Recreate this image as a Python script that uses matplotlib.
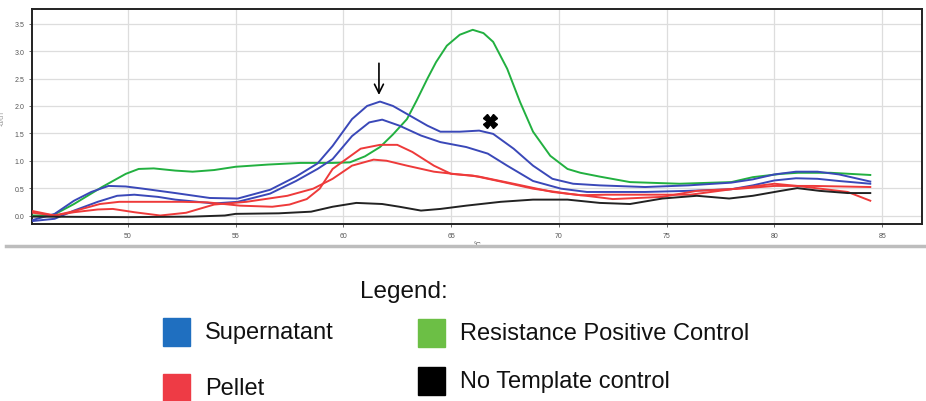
import matplotlib
matplotlib.use("Agg")
import matplotlib.pyplot as plt
from matplotlib.patches import Rectangle
from matplotlib.lines import Line2D

# ---- data ----
green_t = [45.6, 46.5, 47.5, 48.8, 49.9, 50.5, 51.2, 52.2, 53.0, 54.0, 55.0, 56.5, 58.0, 59.5, 60.3,
           61.0, 61.7, 62.3, 62.95, 63.4, 63.9, 64.3, 64.8, 65.4, 66.0, 66.5, 66.95, 67.6, 68.2,
           68.8, 69.6, 70.4, 71.0, 71.9, 73.3, 75.6, 78.0, 79.0, 80.3, 81.1, 82.6, 84.45]
green_v = [0.0, 0.0, 0.21, 0.52, 0.76, 0.85, 0.86, 0.82, 0.80, 0.83, 0.89, 0.93, 0.96, 0.96, 0.97,
           1.08, 1.25, 1.48, 1.76, 2.1, 2.5, 2.8, 3.1, 3.3, 3.39, 3.33, 3.17, 2.68, 2.07,
           1.53, 1.09, 0.85, 0.78, 0.71, 0.61, 0.58, 0.61, 0.70, 0.76, 0.78, 0.78, 0.74]

blue_a_t = [45.6, 46.6, 47.5, 48.3, 49.1, 49.9, 50.7, 52.2, 53.8, 55.1, 56.6, 57.8, 58.8, 59.5,
            60.4, 61.1, 61.7, 62.3, 63.1, 63.9, 64.5, 65.4, 66.3, 66.95, 67.9, 68.8, 69.7, 70.66,
            71.9, 74.0, 76.0, 78.0, 79.0, 80.0, 81.0, 82.0, 83.0, 84.45]
blue_a_v = [-0.08, 0.03, 0.27, 0.43, 0.54, 0.53, 0.49, 0.41, 0.32, 0.31, 0.47, 0.71, 0.95, 1.27,
            1.76, 2.0, 2.08, 2.0, 1.82, 1.64, 1.53, 1.53, 1.55, 1.49, 1.22, 0.91, 0.67, 0.58,
            0.55, 0.52, 0.55, 0.60, 0.66, 0.75, 0.80, 0.80, 0.75, 0.62]

blue_b_t = [45.6, 46.6, 47.5, 48.6, 49.5, 50.3, 51.4, 52.2, 54.0, 55.1, 56.6, 57.8, 58.8, 59.5,
            60.4, 61.2, 61.8, 62.6, 63.6, 64.5, 65.7, 66.7, 67.6, 68.8, 70.1, 71.3, 72.0, 74.0,
            76.0, 78.0, 79.0, 80.0, 81.0, 82.0, 83.0, 84.45]
blue_b_v = [-0.1, -0.06, 0.09, 0.25, 0.36, 0.38, 0.34, 0.29, 0.22, 0.25, 0.40, 0.63, 0.85, 1.03,
            1.45, 1.70, 1.75, 1.64, 1.46, 1.34, 1.25, 1.13, 0.91, 0.63, 0.49, 0.43, 0.43, 0.43,
            0.45, 0.48, 0.55, 0.64, 0.68, 0.67, 0.63, 0.58]

red_a_t = [45.6, 46.6, 47.5, 48.7, 49.6, 51.0, 52.5, 53.7, 55.2, 56.7, 57.5, 58.3, 58.9, 59.5,
           60.8, 61.7, 62.5, 63.2, 64.2, 65.0, 66.0, 67.3, 68.8, 70.4, 71.9, 72.5, 74.8, 76.4,
           78.4, 80.0, 81.8, 84.45]
red_a_v = [0.08, 0.0, 0.08, 0.21, 0.25, 0.25, 0.25, 0.24, 0.18, 0.16, 0.20, 0.30, 0.49, 0.85,
           1.22, 1.29, 1.29, 1.16, 0.91, 0.76, 0.73, 0.62, 0.49, 0.40, 0.33, 0.30, 0.34, 0.45,
           0.49, 0.54, 0.54, 0.52]

red_b_t = [45.6, 46.6, 47.5, 48.6, 49.3, 50.3, 51.5, 52.7, 54.0, 55.5, 57.4, 58.6, 59.5, 60.4,
           61.4, 62.0, 62.95, 64.2, 65.1, 66.3, 67.9, 69.7, 71.0, 72.2, 76.1, 78.4, 80.0, 81.06,
           83.4, 84.45]
red_b_v = [0.05, 0.0, 0.06, 0.11, 0.12, 0.06, 0.0, 0.05, 0.20, 0.25, 0.36, 0.49, 0.67, 0.91,
           1.02, 1.0, 0.91, 0.80, 0.76, 0.71, 0.58, 0.43, 0.37, 0.38, 0.38, 0.50, 0.58, 0.54,
           0.43, 0.27]

black_t = [45.6, 50.0, 53.0, 54.5, 55.0, 57.0, 58.5, 59.5, 60.6, 61.8, 62.6, 63.6, 64.5, 65.7,
           67.3, 68.8, 70.4, 71.9, 73.3, 74.8, 76.4, 77.9, 79.0, 80.3, 81.06, 82.1, 83.4, 84.45]
black_v = [-0.02, -0.03, -0.02, 0.0, 0.03, 0.04, 0.07, 0.16, 0.23, 0.21, 0.16, 0.09, 0.12, 0.18,
           0.25, 0.29, 0.29, 0.23, 0.21, 0.31, 0.36, 0.31, 0.36, 0.45, 0.50, 0.45, 0.41, 0.41]

x_ticks = [50, 55, 60, 65, 70, 75, 80, 85]
y_ticks = [0.0, 0.5, 1.0, 1.5, 2.0, 2.5, 3.0, 3.5]
legend_labels = ["Supernatant", "Pellet", "Resistance Positive Control", "No Template control"]

# ---- styling ----
LINE_BLUE = "#3a48b8"
LINE_RED = "#ee3a3a"
LINE_GREEN = "#22b040"
LINE_BLACK = "#222222"
LEG_COLORS = ["#1f6fc0", "#ee3b45", "#6cbf45", "#000000"]

plt.rcParams['font.family'] = ['Liberation Sans', 'DejaVu Sans']

W, H = 926, 402
fig = plt.figure(figsize=(W / 100, H / 100), dpi=100)
ax = fig.add_axes([32 / W, 1 - 225 / H, (922 - 32) / W, (225 - 10) / H])

ax.set_xlim(45.55, 86.85)
ax.set_ylim(-0.155, 3.77)

lw = 1.4
ax.plot(green_t, green_v, color=LINE_GREEN, lw=lw, zorder=3)
ax.plot(blue_a_t, blue_a_v, color=LINE_BLUE, lw=lw, zorder=3)
ax.plot(blue_b_t, blue_b_v, color=LINE_BLUE, lw=lw, zorder=3)
ax.plot(red_a_t, red_a_v, color=LINE_RED, lw=lw, zorder=3)
ax.plot(red_b_t, red_b_v, color=LINE_RED, lw=lw, zorder=3)
ax.plot(black_t, black_v, color=LINE_BLACK, lw=lw, zorder=3)

ax.set_xticks(x_ticks)
ax.set_yticks(y_ticks)
ax.set_xticklabels([str(t) for t in x_ticks])
ax.set_yticklabels([f"{v:.1f}" for v in y_ticks])
ax.tick_params(axis='both', labelsize=5, colors="#555555", length=2, width=0.6)
ax.grid(True, color="#dddddd", lw=0.9, zorder=0)
for s in ax.spines.values():
    s.set_color("#222222")
    s.set_linewidth(1.4)
ax.set_xlabel("°C", fontsize=5, color="#555555", labelpad=2)
ax.set_ylabel("-d/dT", fontsize=5, color="#999999", labelpad=6)

# annotation marks
ax.annotate("", xy=(61.65, 2.15), xytext=(61.65, 2.83),
            arrowprops=dict(arrowstyle="->", color="black", lw=1.2, mutation_scale=16))
ax.plot([66.8], [1.73], marker="X", color="black", markersize=10, zorder=5)

# separator line
fig.add_artist(Line2D([6 / W, 1.0], [1 - 247 / H, 1 - 247 / H], color="#bdbdbd", lw=2.5,
                      transform=fig.transFigure))

# legend (drawn manually)
fig.text(360 / W, 1 - 292 / H, "Legend:", fontsize=17.5, va="center", ha="left", color="#111111")
sq_w, sq_h = 27 / W, 28 / H
positions = [(163, 333), (163, 389), (418, 334), (418, 382)]
for (px, py), col, lab in zip(positions, LEG_COLORS, legend_labels):
    fig.add_artist(Rectangle((px / W, 1 - (py + 14) / H), sq_w, sq_h, color=col,
                             transform=fig.transFigure))
    fig.text((px + 42) / W, 1 - py / H, lab, fontsize=17, va="center", ha="left", color="#111111")

fig.savefig("out.png", dpi=100)
